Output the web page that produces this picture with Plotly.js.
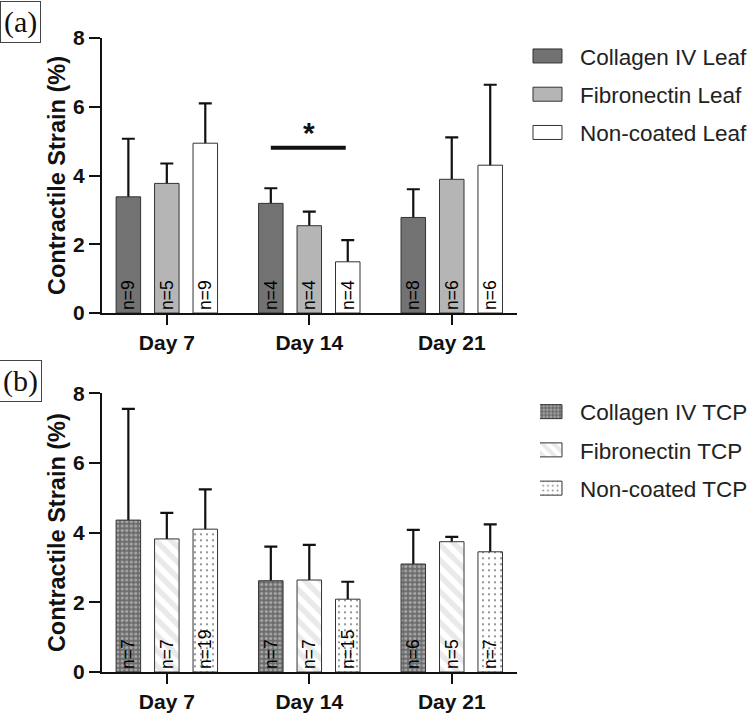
<!DOCTYPE html>
<html>
<head>
<meta charset="utf-8">
<script src="https://cdn.plot.ly/plotly-3.0.1.min.js"></script>
<style>html,body{margin:0;padding:0;background:#fff;}#chart{width:750px;height:713px;}</style>
</head>
<body>
<div id="chart"></div>
<script>
// ---------- data ----------
var days = ['Day 7', 'Day 14', 'Day 21'];

// Panel (a): Leaf
var leafCollagenIV = [3.38, 3.19, 2.78];
var leafCollagenIVErr = [1.69, 0.44, 0.82];
var leafCollagenIVN = [9, 4, 8];
var leafFibronectin = [3.77, 2.54, 3.89];
var leafFibronectinErr = [0.58, 0.41, 1.22];
var leafFibronectinN = [5, 4, 6];
var leafNonCoated = [4.94, 1.49, 4.30];
var leafNonCoatedErr = [1.16, 0.63, 2.34];
var leafNonCoatedN = [9, 4, 6];

// Panel (b): TCP
var tcpCollagenIV = [4.36, 2.62, 3.10];
var tcpCollagenIVErr = [3.19, 0.98, 0.98];
var tcpCollagenIVN = [7, 7, 6];
var tcpFibronectin = [3.82, 2.64, 3.74];
var tcpFibronectinErr = [0.75, 1.01, 0.14];
var tcpFibronectinN = [7, 7, 5];
var tcpNonCoated = [4.10, 2.09, 3.45];
var tcpNonCoatedErr = [1.14, 0.50, 0.79];
var tcpNonCoatedN = [19, 15, 7];

var yTicks = [0, 2, 4, 6, 8];
var sigBar = {x0: 0.73, x1: 1.256, y: 4.81, label: '*'};

// ---------- styling ----------
var FONT = 'Liberation Sans, Arial, sans-serif';
var OUT = '#333333';

function nLabels(arr) { return arr.map(function (n) { return 'n=' + n; }); }

function errTrace(xa, ya, y, err, group) {
  return {
    type: 'bar', x: days, y: y, xaxis: xa, yaxis: ya,
    offsetgroup: group, alignmentgroup: ya,
    marker: {color: 'rgba(0,0,0,0)', line: {width: 0}},
    error_y: {type: 'data', array: err, arrayminus: y, symmetric: false,
              color: '#111', thickness: 2.2, width: 6.5},
    showlegend: false, hoverinfo: 'skip'
  };
}

function barTrace(name, xa, ya, y, n, group, marker, legend, lg) {
  return {
    type: 'bar', name: name, x: days, y: y, xaxis: xa, yaxis: ya,
    offsetgroup: group, alignmentgroup: ya, legend: legend, legendgroup: lg,
    marker: marker,
    text: nLabels(n), textposition: 'inside', insidetextanchor: 'start',
    textangle: -90, constraintext: 'none',
    textfont: {family: FONT, size: 17.5, color: '#000'},
    hoverinfo: 'skip'
  };
}

var data = [
  errTrace('x', 'y', leafCollagenIV, leafCollagenIVErr, 'g1'),
  errTrace('x', 'y', leafFibronectin, leafFibronectinErr, 'g2'),
  errTrace('x', 'y', leafNonCoated, leafNonCoatedErr, 'g3'),
  errTrace('x2', 'y2', tcpCollagenIV, tcpCollagenIVErr, 'g1'),
  errTrace('x2', 'y2', tcpFibronectin, tcpFibronectinErr, 'g2'),
  errTrace('x2', 'y2', tcpNonCoated, tcpNonCoatedErr, 'g3'),
  barTrace('Collagen IV Leaf', 'x', 'y', leafCollagenIV, leafCollagenIVN, 'g1',
    {color: '#727272', line: {color: OUT, width: 1}}, 'legend', 'a1'),
  barTrace('Fibronectin Leaf', 'x', 'y', leafFibronectin, leafFibronectinN, 'g2',
    {color: '#b5b5b5', line: {color: OUT, width: 1}}, 'legend', 'a2'),
  barTrace('Non-coated Leaf', 'x', 'y', leafNonCoated, leafNonCoatedN, 'g3',
    {color: '#ffffff', line: {color: OUT, width: 1}}, 'legend', 'a3'),
  barTrace('Collagen IV TCP', 'x2', 'y2', tcpCollagenIV, tcpCollagenIVN, 'g1',
    {color: '#6c6c6c', line: {color: OUT, width: 1},
     pattern: {shape: '.', bgcolor: '#6c6c6c', fgcolor: '#dedede', size: 4.5, solidity: 0.4, fillmode: 'overlay'}},
    'legend2', 'b1'),
  barTrace('Fibronectin TCP', 'x2', 'y2', tcpFibronectin, tcpFibronectinN, 'g2',
    {color: '#ffffff', line: {color: OUT, width: 1},
     pattern: {shape: '\\', bgcolor: '#ffffff', fgcolor: '#d4d4d4', size: 11, solidity: 0.5, fillmode: 'overlay'}},
    'legend2', 'b2'),
  barTrace('Non-coated TCP', 'x2', 'y2', tcpNonCoated, tcpNonCoatedN, 'g3',
    {color: '#ffffff', line: {color: OUT, width: 1},
     pattern: {shape: '.', bgcolor: '#ffffff', fgcolor: '#000000', size: 6, solidity: 0.1, fillmode: 'overlay'}},
    'legend2', 'b3')
];

function xAxis(anchor) {
  return {
    anchor: anchor, type: 'category', range: [-0.455, 2.458],
    showline: true, linewidth: 2, linecolor: '#111',
    ticks: 'outside', ticklen: 10, tickwidth: 2, tickcolor: '#111',
    showgrid: false, zeroline: false, fixedrange: true, automargin: false,
    tickfont: {family: FONT, size: 21, color: '#111', weight: 'bold'}
  };
}
function yAxis(anchor, domain) {
  return {
    anchor: anchor, domain: domain, range: [0, 8],
    tickvals: yTicks, ticktext: yTicks.map(String),
    showline: true, linewidth: 2, linecolor: '#111',
    ticks: 'outside', ticklen: 11, tickwidth: 2, tickcolor: '#111',
    showgrid: false, zeroline: false, fixedrange: true, automargin: false,
    tickfont: {family: FONT, size: 21, color: '#111', weight: 'bold'},
    title: {text: 'Contractile Strain (%)', standoff: 1,
            font: {family: FONT, size: 23.5, color: '#111', weight: 'bold'}}
  };
}

var legendBase = {
  xref: 'paper', yref: 'paper', x: 1.0554, xanchor: 'left', yanchor: 'top',
  font: {family: FONT, size: 22.5, color: '#222'},
  bgcolor: 'rgba(0,0,0,0)', borderwidth: 0, traceorder: 'grouped', tracegroupgap: 6
};
var legend1 = Object.assign({}, legendBase, {y: 1.005});
var legend2 = Object.assign({}, legendBase, {y: 0.444});

var layout = {
  width: 750, height: 713,
  margin: {l: 102, r: 233, t: 38, b: 41, pad: 0, autoexpand: false},
  paper_bgcolor: '#ffffff', plot_bgcolor: '#ffffff',
  barmode: 'group', bargap: 0.19, bargroupgap: 0.363,
  showlegend: true,
  legend: legend1, legend2: legend2,
  xaxis: xAxis('y'), yaxis: yAxis('x', [0.5662, 1]),
  xaxis2: xAxis('y2'), yaxis2: yAxis('x2', [0, 0.4396]),
  shapes: [
    {type: 'line', xref: 'x', yref: 'y', x0: sigBar.x0, x1: sigBar.x1, y0: sigBar.y, y1: sigBar.y,
     line: {color: '#111', width: 4}}
  ],
  annotations: [
    {xref: 'x', yref: 'y', x: 1, y: sigBar.y, yshift: 15, text: '<b>' + sigBar.label + '</b>', showarrow: false,
     font: {family: FONT, size: 30, color: '#111'}},
    {xref: 'paper', yref: 'paper', x: -0.196, y: 1.0245, xanchor: 'center', yanchor: 'middle',
     text: '(a)', showarrow: false, bordercolor: '#444', borderwidth: 1, borderpad: 3,
     font: {family: 'Liberation Serif, Times New Roman, serif', size: 30, color: '#111'}},
    {xref: 'paper', yref: 'paper', x: -0.196, y: 0.459, xanchor: 'center', yanchor: 'middle',
     text: '(b)', showarrow: false, bordercolor: '#444', borderwidth: 1, borderpad: 3,
     font: {family: 'Liberation Serif, Times New Roman, serif', size: 30, color: '#111'}}
  ]
};

Plotly.newPlot('chart', data, layout, {staticPlot: true, displayModeBar: false}).then(function (gd) {
  // rectangular legend keys like the reference, without legend clipping
  gd.querySelectorAll('.legend [clip-path]').forEach(function (el) { el.removeAttribute('clip-path'); });
  gd.querySelectorAll('.legendpoints path').forEach(function (p) {
    p.setAttribute('d', 'M2,7H-27V-7H2Z');
  });
});
</script>
</body>
</html>
